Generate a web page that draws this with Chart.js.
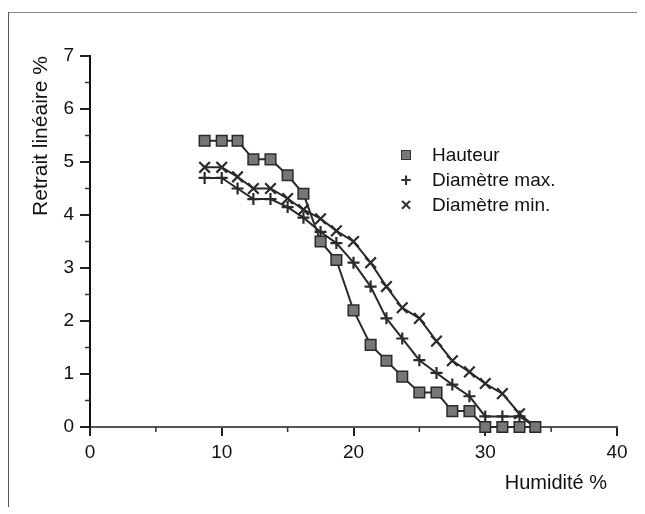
<!DOCTYPE html>
<html>
<head>
<meta charset="utf-8">
<script src="https://cdn.jsdelivr.net/npm/chart.js@4.4.1/dist/chart.umd.min.js"></script>
<style>
  body { margin: 0; background: #fff; }
  #wrap { position: relative; width: 645px; height: 514px; overflow: hidden; }
  #frame {
    position: absolute; left: 8px; top: 12px; width: 628px; height: 494px;
    border-top: 1px solid #888; border-left: 1px solid #555;
  }
  #legend {
    position: absolute; left: 394px; top: 142px;
    font: 19px "Liberation Sans", Arial, sans-serif; color: #111;
  }
  #legend .row { height: 25px; line-height: 25px; white-space: nowrap; }
  #legend .mk { display: inline-block; width: 24px; text-align: center; margin-right: 14px; font-weight: bold; color: #333; }
  #legend .sq { display: inline-block; width: 8px; height: 8px; background: #777; border: 1px solid #333; vertical-align: 1px; }
  canvas { position: absolute; left: 0; top: 0; }
</style>
</head>
<body>
<div id="wrap">
  <div id="frame"></div>
  <canvas id="chart" width="645" height="514"></canvas>
  <div id="legend"></div>
</div>
<script>
/* ---------- data ---------- */
const humidity = [8.7, 10.0, 11.2, 12.4, 13.7, 15.0, 16.2, 17.5, 18.7, 20.0, 21.3,
                  22.5, 23.7, 25.0, 26.3, 27.5, 28.8, 30.0, 31.3, 32.6, 33.8];
const hauteur = [5.4, 5.4, 5.4, 5.05, 5.05, 4.75, 4.4, 3.5, 3.15, 2.2, 1.55,
                 1.25, 0.95, 0.65, 0.65, 0.3, 0.3, 0, 0, 0, 0];
const diamMax = [4.7, 4.7, 4.5, 4.3, 4.3, 4.15, 3.95, 3.68, 3.47, 3.1, 2.65,
                 2.05, 1.67, 1.26, 1.02, 0.8, 0.58, 0.2, 0.2, 0.2, 0];
const diamMin = [4.9, 4.9, 4.72, 4.5, 4.5, 4.31, 4.1, 3.93, 3.7, 3.5, 3.1,
                 2.65, 2.25, 2.05, 1.62, 1.25, 1.04, 0.82, 0.63, 0.25, 0];
const seriesNames = ['Hauteur', 'Diamètre max.', 'Diamètre min.'];
const xMinor = [5, 15, 25, 35];
const yMinor = [0.5, 1.5, 2.5, 3.5, 4.5, 5.5, 6.5];

const FONT = '"Liberation Sans", Arial, sans-serif';
const INK = '#111';

function toPoints(ys) {
  return ys.map((v, i) => ({ x: humidity[i], y: v }));
}

// short ticks at the half steps, drawn from the scales
const minorTicks = {
  id: 'minorTicks',
  afterDraw(chart) {
    const { ctx, scales: { x, y } } = chart;
    ctx.save();
    ctx.strokeStyle = '#333';
    ctx.lineWidth = 1.5;
    ctx.beginPath();
    xMinor.forEach(v => {
      const px = x.getPixelForValue(v);
      ctx.moveTo(px, y.bottom);
      ctx.lineTo(px, y.bottom + 5);
    });
    yMinor.forEach(v => {
      const py = y.getPixelForValue(v);
      ctx.moveTo(x.left, py);
      ctx.lineTo(x.left - 5, py);
    });
    ctx.stroke();
    ctx.restore();
  }
};

const common = {
  showLine: true,
  borderColor: '#2a2a2a',
  borderWidth: 2,
  tension: 0,
  clip: false
};

new Chart(document.getElementById('chart'), {
  type: 'scatter',
  data: {
    datasets: [
      { ...common, label: seriesNames[0], data: toPoints(hauteur),
        pointStyle: 'rect', pointRadius: 7.5, pointBackgroundColor: '#777',
        pointBorderColor: '#2a2a2a', pointBorderWidth: 1.5 },
      { ...common, label: seriesNames[1], data: toPoints(diamMax),
        pointStyle: 'cross', pointRadius: 6, pointBorderColor: '#2a2a2a', pointBorderWidth: 2.2 },
      { ...common, label: seriesNames[2], data: toPoints(diamMin),
        pointStyle: 'crossRot', pointRadius: 7.5, pointBorderColor: '#2a2a2a', pointBorderWidth: 2.2 }
    ]
  },
  options: {
    responsive: false,
    animation: false,
    layout: { padding: { left: 10, right: 28, top: 56, bottom: 10 } },
    plugins: { legend: { display: false }, tooltip: { enabled: false } },
    scales: {
      x: {
        type: 'linear', min: 0, max: 40,
        afterFit: s => { s.height = 77; },
        ticks: { stepSize: 10, color: INK, padding: 5, font: { family: FONT, size: 19 } },
        grid: { drawOnChartArea: false, tickLength: 9, color: '#222', lineWidth: 2 },
        border: { color: '#555', width: 2 },
        title: { display: true, text: 'Humidité %\u2002', align: 'end', color: INK,
                 padding: { top: 0, bottom: 9 }, font: { family: FONT, size: 20 } }
      },
      y: {
        type: 'linear', min: 0, max: 7,
        afterFit: s => { s.width = 80; },
        ticks: { stepSize: 1, color: INK, padding: 6, font: { family: FONT, size: 19 } },
        grid: { drawOnChartArea: false, tickLength: 10, color: '#222', lineWidth: 2 },
        border: { color: '#111', width: 2 },
        title: { display: true, text: 'Retrait linéaire %', align: 'end', color: INK,
                 padding: { top: 19, bottom: 0 }, font: { family: FONT, size: 21 } }
      }
    }
  },
  plugins: [minorTicks]
});

/* ---------- legend ---------- */
const marks = ['<span class="sq"></span>', '+', '&times;'];
document.getElementById('legend').innerHTML = seriesNames
  .map((n, i) => `<div class="row"><span class="mk">${marks[i]}</span>${n}</div>`)
  .join('');
</script>
</body>
</html>
